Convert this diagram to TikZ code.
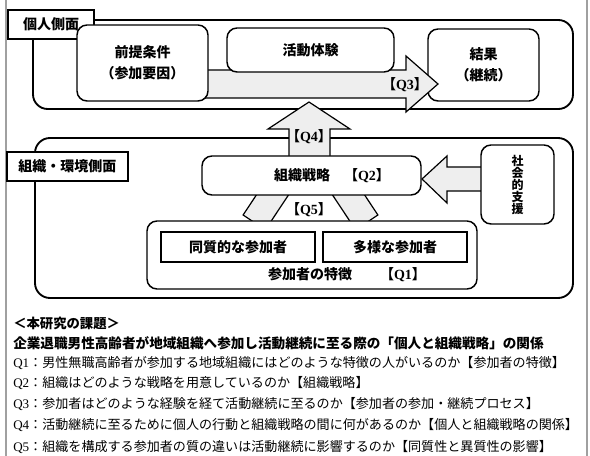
\documentclass[tikz,border=0pt]{standalone}
\usepackage{fontspec}
\setmainfont{Liberation Serif}
\newfontfamily\jp{Noto Sans CJK JP}
\definecolor{framegray}{RGB}{160,160,160}
\definecolor{arrowfill}{RGB}{238,238,238}
\newcommand{\qlbl}[1]{【{\rmfamily Q#1}】}
\usetikzlibrary{positioning}

\begin{document}
\begin{tikzpicture}[x=0.75pt,y=-0.75pt,
    area/.style={draw,line width=1.4pt,rounded corners=11pt},
    sidebox/.style={draw,line width=0.8pt,fill=white,inner sep=0pt,
        font=\jp\bfseries\fontsize{10.5}{12}\selectfont},
    card/.style={draw,line width=1.1pt,fill=white,rounded corners=7.5pt,inner sep=0pt,
        align=center,font=\jp\bfseries\fontsize{10.5}{15.5}\selectfont},
    flat/.style={draw,line width=0.8pt,fill=white,inner sep=0pt,
        font=\jp\bfseries\fontsize{10.5}{12}\selectfont},
    boxtext/.style={inner sep=0pt,font=\jp\bfseries\fontsize{10.5}{12}\selectfont},
    blockarrow/.style={draw,line width=0.9pt,fill=arrowfill,line join=miter},
    qline/.style={anchor=west,inner sep=0pt,font=\jp\fontsize{9.8}{12}\selectfont}]
    \useasboundingbox (0,0) rectangle (590,456);
    \draw[framegray,line width=1pt] (6,0) -- (6,456) (587,0) -- (587,456);

    % two sides
    \node[area,minimum width=405pt,minimum height=66.75pt] (indarea) at (303,64.5) {};
    \node[area,rounded corners=11.25pt,minimum width=403.5pt,minimum height=120pt] (orgarea) at (304,218) {};
    \node[sidebox,minimum width=64.5pt,minimum height=21.75pt] (ind) at (51,24.5) {個人側面};
    \node[sidebox,minimum width=90.75pt,minimum height=21.75pt] (org) at (67.5,166.5) {組織・環境側面};

    % individual side
    \node[card,minimum width=83.25pt,minimum height=54pt] (res) at (483.5,65) {結果\\（継続）};
    \filldraw[blockarrow] (205,70) -- (406,70) -- (406,56) -- (438,84) -- (406,112) -- (406,98) -- (205,98) -- cycle;
    \node[boxtext] (q3) at (405,85) {\qlbl{3}};
    \node[card,minimum width=98.25pt,minimum height=57pt] (pre) at (142.5,63) {前提条件\\（参加要因）};
    \node[card,minimum width=125.25pt,minimum height=33pt] (act) at (310.5,50) {活動体験};

    % organisation side
    \filldraw[blockarrow] (289,160) -- (289,129) -- (268,129) -- (309,102) -- (350,129) -- (330,129) -- (330,160) -- cycle;
    \node[boxtext] (q4) at (309,137) {\qlbl{4}};
    \filldraw[blockarrow] (490,167) -- (447,167) -- (447,156) -- (422,179) -- (447,203) -- (447,191) -- (490,191) -- cycle;
    \filldraw[blockarrow] (243.1,215) -- (270.6,173.5) -- (264,169.1) -- (292.8,164.3) -- (299.5,192.7) -- (292.9,188.3) -- (265.4,229.8) -- cycle;
    \filldraw[blockarrow] (377.9,215) -- (350.4,173.5) -- (357,169.1) -- (328.2,164.3) -- (321.5,192.7) -- (328.1,188.3) -- (355.6,229.8) -- cycle;
    \node[boxtext] (q5) at (309,210) {\qlbl{5}};

    \node[card,minimum width=164.25pt,minimum height=29.25pt] (strat) at (311.5,175.5) {};
    \node[boxtext] (stratlbl) at (332,176) {組織戦略　\qlbl{2}};
    \node[card,minimum width=54.75pt,minimum height=59.25pt,
        font=\jp\bfseries\fontsize{9}{9}\selectfont] (soc) at (517.5,184.5) {社\\会\\的\\支\\援};
    \node[card,minimum width=247.5pt,minimum height=51pt] (part) at (312,255) {};
    \node[flat,minimum width=115.5pt,minimum height=22.5pt] (homo) at (238,247) {同質的な参加者};
    \node[flat,minimum width=108pt,minimum height=22.5pt] (div) at (395,247) {多様な参加者};
    \node[boxtext] (partlbl) at (347,275) {参加者の特徴　　\qlbl{1}};

    % research questions
    \node[qline,font=\jp\bfseries\fontsize{10}{12}\selectfont] (ttl) at (13,323) {＜本研究の課題＞};
    \node[qline,font=\jp\bfseries\fontsize{10.2}{12}\selectfont] (theme) at (13,343) {企業退職男性高齢者が地域組織へ参加し活動継続に至る際の「個人と組織戦略」の関係};
    \node[qline] (rq1) at (13,363) {{\rmfamily Q1}：男性無職高齢者が参加する地域組織にはどのような特徴の人がいるのか【参加者の特徴】};
    \node[qline] (rq2) at (13,383) {{\rmfamily Q2}：組織はどのような戦略を用意しているのか【組織戦略】};
    \node[qline] (rq3) at (13,404) {{\rmfamily Q3}：参加者はどのような経験を経て活動継続に至るのか【参加者の参加・継続プロセス】};
    \node[qline] (rq4) at (13,425) {{\rmfamily Q4}：活動継続に至るために個人の行動と組織戦略の間に何があるのか【個人と組織戦略の関係】};
    \node[qline] (rq5) at (13,447) {{\rmfamily Q5}：組織を構成する参加者の質の違いは活動継続に影響するのか【同質性と異質性の影響】};
\end{tikzpicture}
\end{document}
